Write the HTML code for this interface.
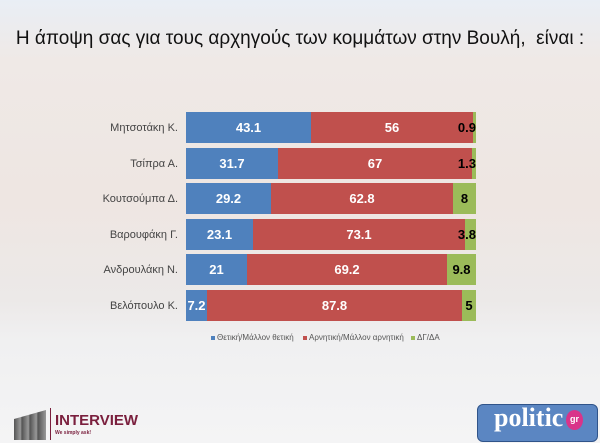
<!DOCTYPE html>
<html><head><meta charset="utf-8"><style>
body{margin:0;width:600px;height:443px;overflow:hidden;font-family:"Liberation Sans",sans-serif;}
#bg{position:absolute;left:0;top:0;width:600px;height:443px;background:linear-gradient(180deg,#e9eef5 0px,#efe9e6 60px,#eee6e2 200px,#ece9e8 300px,#f0f0f1 340px,#f4f4f5 443px);}
.t{position:absolute;left:0;width:600px;top:28px;text-align:center;font-size:19px;color:#111;}
.lbl{position:absolute;right:422px;font-size:11px;color:#444;text-align:right;white-space:nowrap;}
.bar{position:absolute;height:31px;display:flex;left:186px;}
.bar div{height:100%;display:flex;align-items:center;justify-content:center;color:#fff;font-weight:bold;font-size:13px;}
.b{background:#4f81bd}.r{background:#c0504d}.g{background:#9bbb59}
.leg{position:absolute;top:333px;font-size:8px;color:#555;}
.sq{display:inline-block;width:4px;height:4px;margin-right:2px;vertical-align:middle;}
</style></head><body>
<div id="bg"></div>
<div class="t">Η άποψη σας για τους αρχηγούς των κομμάτων στην Βουλή,&nbsp; είναι :</div>

<div class="lbl" style="top:122px">Μητσοτάκη Κ.</div>
<div class="bar" style="top:112px"><div class="b" style="width:125px">43.1</div><div class="r" style="width:162px">56</div><div class="g" style="width:3px;position:relative"><span style="position:absolute;right:0;color:#000">0.9</span></div></div>

<div class="lbl" style="top:158px">Τσίπρα Α.</div>
<div class="bar" style="top:148px"><div class="b" style="width:92px">31.7</div><div class="r" style="width:194px">67</div><div class="g" style="width:4px;position:relative"><span style="position:absolute;right:0;color:#000">1.3</span></div></div>

<div class="lbl" style="top:193px">Κουτσούμπα Δ.</div>
<div class="bar" style="top:183px"><div class="b" style="width:85px">29.2</div><div class="r" style="width:182px">62.8</div><div class="g" style="width:23px;color:#000">8</div></div>

<div class="lbl" style="top:229px">Βαρουφάκη Γ.</div>
<div class="bar" style="top:219px"><div class="b" style="width:67px">23.1</div><div class="r" style="width:212px">73.1</div><div class="g" style="width:11px;color:#000;position:relative"><span style="position:absolute;right:0">3.8</span></div></div>

<div class="lbl" style="top:264px">Ανδρουλάκη Ν.</div>
<div class="bar" style="top:254px"><div class="b" style="width:61px">21</div><div class="r" style="width:200px">69.2</div><div class="g" style="width:29px;color:#000">9.8</div></div>

<div class="lbl" style="top:300px">Βελόπουλο Κ.</div>
<div class="bar" style="top:290px"><div class="b" style="width:21px">7.2</div><div class="r" style="width:255px">87.8</div><div class="g" style="width:14px;color:#000">5</div></div>

<div class="leg" style="left:211px"><span class="sq b"></span>Θετική/Μάλλον θετική</div>
<div class="leg" style="left:303px"><span class="sq r"></span>Αρνητική/Μάλλον αρνητική</div>
<div class="leg" style="left:411px"><span class="sq g"></span>ΔΓ/ΔΑ</div>

<div style="position:absolute;left:14px;top:410px;width:32px;height:30px;background:linear-gradient(90deg,#555 0,#999 20%,#555 25%,#999 45%,#555 50%,#999 70%,#555 75%,#999 100%);clip-path:polygon(0 30%,100% 0,100% 100%,0 100%)"></div>
<div style="position:absolute;left:50px;top:408px;width:1px;height:32px;background:#7a1f3d"></div>
<div style="position:absolute;left:55px;top:412px;font-size:15px;font-weight:bold;color:#7a1f3d">INTERVIEW</div>
<div style="position:absolute;left:55px;top:430px;font-size:5px;color:#7a1f3d;font-weight:bold">We simply ask!</div>

<div style="position:absolute;left:477px;top:404px;width:119px;height:36px;background:#5b86c2;border:1px solid #30548a;border-radius:6px;"></div>
<div style="position:absolute;left:494px;top:403px;font-size:26px;font-weight:bold;color:#fff;font-family:'Liberation Serif',serif">politic</div>
<div style="position:absolute;left:566px;top:410px;width:17px;height:20px;border-radius:50%;background:#d9338a;color:#fff;font-size:9px;text-align:center;line-height:18px;font-weight:bold">gr</div>
</body></html>
